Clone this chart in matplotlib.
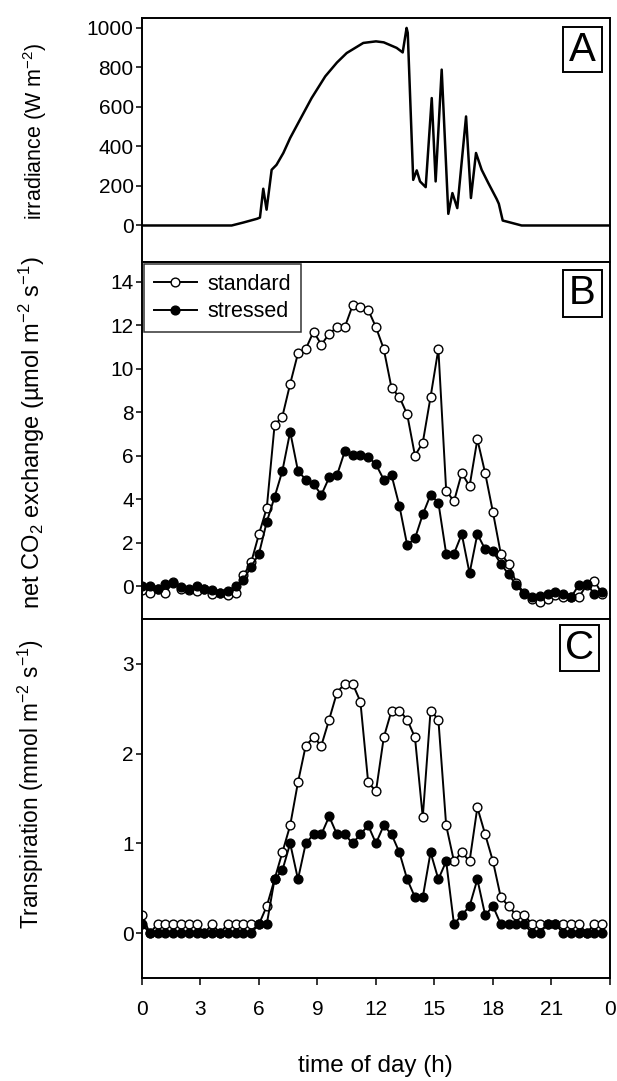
import matplotlib
matplotlib.use("Agg")
import matplotlib.pyplot as plt
from matplotlib.patches import Rectangle

plt.rcParams['font.family'] = ['Liberation Sans', 'DejaVu Sans']
plt.rcParams['mathtext.fontset'] = 'custom'
plt.rcParams['mathtext.rm'] = 'Liberation Sans'
plt.rcParams['mathtext.it'] = 'Liberation Sans:italic'

# irradiance trace (panel A)
irr_t = [0, 4.6, 5.2, 5.9, 6.05, 6.22, 6.39, 6.65, 6.9, 7.25, 7.6, 8.1, 8.7, 9.4, 10.0,
         10.5, 11.35, 12.0, 12.4, 13.06, 13.37, 13.57, 13.63, 13.91, 14.09, 14.26, 14.55,
         14.86, 15.06, 15.37, 15.71, 15.92, 16.17, 16.62, 16.87, 17.13, 17.42, 17.76,
         18.19, 18.3, 18.5, 18.7, 19.47, 24]
irr_w = [0, 0, 15, 34, 40, 186, 80, 282, 307, 367, 443, 535, 645, 755, 825,
         873, 924, 932, 927, 899, 876, 1000, 975, 231, 279, 223, 194,
         645, 223, 789, 59, 164, 88, 552, 139, 367, 282, 215,
         134, 110, 25, 20, 0, 0]

# measurement times (h)
hours = [0.0, 0.4, 0.8, 1.2, 1.6, 2.0, 2.4, 2.8, 3.2, 3.6, 4.0, 4.4, 4.8, 5.2, 5.6,
         6.0, 6.4, 6.8, 7.2, 7.6, 8.0, 8.4, 8.8, 9.2, 9.6, 10.0, 10.4, 10.8, 11.2, 11.6,
         12.0, 12.4, 12.8, 13.2, 13.6, 14.0, 14.4, 14.8, 15.2, 15.6, 16.0, 16.4, 16.8, 17.2, 17.6,
         18.0, 18.4, 18.8, 19.2, 19.6, 20.0, 20.4, 20.8, 21.2, 21.6, 22.0, 22.4, 22.8, 23.2, 23.6]

co2_standard = [-0.15, -0.3, -0.1, -0.3, 0.2, -0.1, -0.15, -0.2, -0.1, -0.35, -0.3, -0.4, -0.3, 0.5, 1.1,
                2.4, 3.6, 7.4, 7.8, 9.3, 10.7, 10.9, 11.7, 11.1, 11.6, 11.9, 11.9, 12.9, 12.85, 12.7,
                11.9, 10.9, 9.1, 8.7, 7.9, 6.0, 6.6, 8.7, 10.9, 4.4, 3.9, 5.2, 4.6, 6.75, 5.2,
                3.4, 1.5, 1.04, 0.15, -0.3, -0.6, -0.7, -0.6, -0.4, -0.5, -0.5, -0.5, 0.05, 0.25, -0.35]
co2_stressed = [0.0, 0.0, -0.1, 0.1, 0.15, -0.05, -0.1, 0.0, -0.1, -0.15, -0.3, -0.2, 0.0, 0.3, 0.9,
                1.5, 2.96, 4.1, 5.3, 7.1, 5.3, 4.9, 4.7, 4.2, 5.0, 5.1, 6.2, 6.05, 6.05, 5.95,
                5.6, 4.9, 5.1, 3.7, 1.9, 2.2, 3.3, 4.2, 3.85, 1.5, 1.5, 2.4, 0.6, 2.4, 1.7,
                1.6, 1.04, 0.55, 0.05, -0.35, -0.5, -0.45, -0.35, -0.25, -0.35, -0.5, 0.05, 0.12, -0.35, -0.25]

tr_standard = [0.2, 0.0, 0.1, 0.1, 0.1, 0.1, 0.1, 0.1, 0.0, 0.1, 0.0, 0.1, 0.1, 0.1, 0.1,
               0.1, 0.3, 0.6, 0.9, 1.2, 1.68, 2.09, 2.18, 2.09, 2.38, 2.68, 2.78, 2.78, 2.58, 1.68,
               1.58, 2.18, 2.48, 2.48, 2.38, 2.18, 1.29, 2.48, 2.38, 1.2, 0.8, 0.9, 0.8, 1.4, 1.1,
               0.8, 0.4, 0.3, 0.2, 0.2, 0.1, 0.1, 0.1, 0.1, 0.1, 0.1, 0.1, 0.0, 0.1, 0.1]
tr_stressed = [0.1, 0.0, 0.0, 0.0, 0.0, 0.0, 0.0, 0.0, 0.0, 0.0, 0.0, 0.0, 0.0, 0.0, 0.0,
               0.1, 0.1, 0.6, 0.7, 1.0, 0.6, 1.0, 1.1, 1.1, 1.3, 1.1, 1.1, 1.0, 1.1, 1.2,
               1.0, 1.2, 1.1, 0.9, 0.6, 0.4, 0.4, 0.9, 0.6, 0.8, 0.1, 0.2, 0.3, 0.6, 0.2,
               0.3, 0.1, 0.1, 0.1, 0.1, 0.0, 0.0, 0.1, 0.1, 0.0, 0.0, 0.0, 0.0, 0.0, 0.0]

xticks = [0, 3, 6, 9, 12, 15, 18, 21, 24]
xticklabels = ['0', '3', '6', '9', '12', '15', '18', '21', '0']

fig = plt.figure(figsize=(6.17, 10.81), dpi=100)
axA = fig.add_axes([0.2301, 0.7576, 0.7585, 0.2257])
axB = fig.add_axes([0.2301, 0.4274, 0.7585, 0.3303])
axC = fig.add_axes([0.2301, 0.0953, 0.7585, 0.3321])

axA.plot(irr_t, irr_w, color='black', lw=1.8)
axA.set_ylim(-185, 1050)
axA.set_yticks([0, 200, 400, 600, 800, 1000])

mk = dict(marker='o', ms=6.3, mew=1.0, mec='black', lw=1.4, color='black')
axB.plot(hours, co2_standard, mfc='white', label='standard', **mk)
axB.plot(hours, co2_stressed, mfc='black', label='stressed', **mk)
axB.set_ylim(-1.5, 14.9)
axB.set_yticks(range(0, 15, 2))
leg = axB.legend(loc='upper left', fontsize=15.5, frameon=True, fancybox=False,
                 edgecolor='black', borderpad=0.45, handlelength=2.0, handletextpad=0.5,
                 labelspacing=0.3, borderaxespad=0.1)
leg.get_frame().set_linewidth(1.1)

axC.plot(hours, tr_standard, mfc='white', **mk)
axC.plot(hours, tr_stressed, mfc='black', **mk)
axC.set_ylim(-0.5, 3.5)
axC.set_yticks([0, 1, 2, 3])

boxes = {axA: ('A', 0.8996, 0.779, 0.184),
         axB: ('B', 0.8996, 0.846, 0.132),
         axC: ('C', 0.8932, 0.855, 0.128)}
for ax, (letter, x0, y0, h) in boxes.items():
    ax.set_xlim(0, 24)
    ax.set_xticks(xticks)
    for s in ax.spines.values():
        s.set_linewidth(1.4)
    ax.tick_params(axis='y', direction='out', length=4, width=1.1, labelsize=15, pad=2)
    ax.add_patch(Rectangle((x0, y0), 0.0833, h, transform=ax.transAxes, fill=False,
                           lw=1.4, ec='black'))
    ax.text(x0 + 0.0416, y0 + h / 2, letter, transform=ax.transAxes, ha='center',
            va='center', fontsize=29)

for ax in (axA, axB):
    ax.tick_params(axis='x', bottom=False, labelbottom=False)
axC.set_xticklabels(xticklabels)
axC.tick_params(axis='x', direction='out', length=5, width=1.1, labelsize=15, pad=11)

fig.text(0.057, 0.879, 'irradiance (W m$^{-2}$)', rotation=90, ha='center', va='center', fontsize=15.5)
fig.text(0.052, 0.5994, 'net CO$_2$ exchange (µmol m$^{-2}$ s$^{-1}$)', rotation=90,
         ha='center', va='center', fontsize=17)
fig.text(0.050, 0.2747, 'Transpiration (mmol m$^{-2}$ s$^{-1}$)', rotation=90,
         ha='center', va='center', fontsize=16.3)
fig.text(0.609, 0.014, 'time of day (h)', ha='center', va='center', fontsize=17.5)

fig.savefig('out.png', dpi=100)
